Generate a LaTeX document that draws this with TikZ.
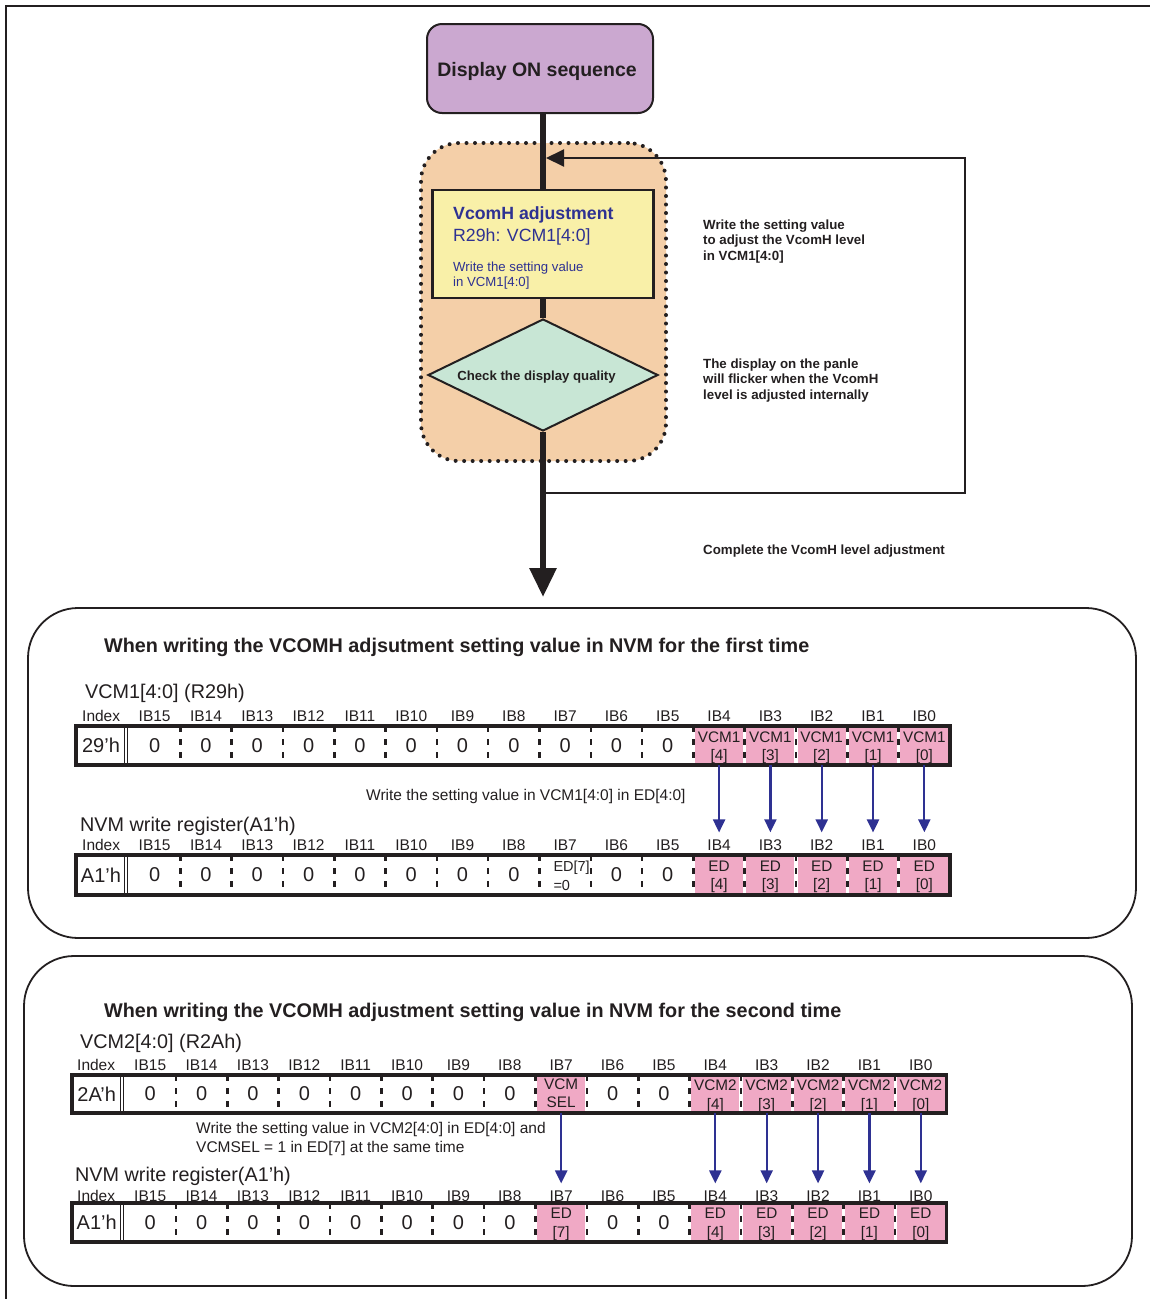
\documentclass[tikz,border=0pt]{standalone}
\usepackage{fontspec}
\setmainfont{Liberation Sans}
\usetikzlibrary{arrows.meta,shapes.geometric}
\definecolor{ink}{HTML}{231F20}
\definecolor{purp}{HTML}{CBA8D0}
\definecolor{peach}{HTML}{F4CFA8}
\definecolor{yel}{HTML}{F9F0A8}
\definecolor{mint}{HTML}{C8E6D5}
\definecolor{pinkc}{HTML}{F0A9C5}
\definecolor{navy}{HTML}{2E3192}
\newcommand\fsz[2]{\fontsize{#1}{#2}\selectfont}
% #1 name, #2 box left, #3 cells left, #4 right, #5 top, #6 bottom, #7 index text, #8 pink cells
\newcommand\regrow[8]{%
  \pgfmathsetmacro\rgcw{(#4-#3)/16}%
  \pgfmathsetmacro\rgch{#6-#5}%
  \foreach \k in {#8} {
    \fill[pinkc] ({#3+\k*\rgcw+1.6},{#5}) rectangle ({#3+(\k+1)*\rgcw-1.6},{#6});
  }
  \foreach \k in {0,...,15} {
    \node[cellbox, minimum width=\rgcw pt, minimum height=\rgch pt] (#1\k) at ({#3+(\k+0.5)*\rgcw},{(#5+#6)/2}) {};
  }
  \foreach \k in {1,...,15} {
    \draw[sep] ({#3+\k*\rgcw},{#5}) -- ({#3+\k*\rgcw},{#6});
  }
  \draw[draw=ink, line width=1pt] ({#3-1.5},{#5}) -- ({#3-1.5},{#6}) ({#3-4.5},{#5}) -- ({#3-4.5},{#6});
  \node[val] (#1i) at ({(#2+#3-3)/2},{(#5+#6)/2}) {#7};
  \draw[draw=ink, line width=3.5pt] (#2,#5) rectangle (#4,#6);
}
% #1 name, #2 x of Index, #3 cells left, #4 right, #5 y
\newcommand\hdrrow[5]{%
  \pgfmathsetmacro\rgcw{(#4-#3)/16}%
  \node[hdr, anchor=west] (#1i) at (#2,#5) {Index};
  \foreach \k [evaluate=\k as \bb using int(15-\k)] in {0,...,15} {
    \node[hdr] (#1\k) at ({#3+(\k+0.5)*\rgcw},#5) {IB\bb};
  }
}
\begin{document}
\begin{tikzpicture}[x=1pt,y=-1pt,
  hdr/.style={font=\fsz{15.5}{17}, text=ink, inner sep=0pt},
  val/.style={font=\fsz{20}{22}, text=ink, inner sep=0pt},
  pk/.style={font=\fsz{15.3}{18.5}, text=ink, align=center, inner sep=0pt, yshift=-2pt},
  lbl/.style={font=\fsz{19.8}{22}, text=ink, inner sep=0pt, anchor=west, yshift=-2pt},
  ttl/.style={font=\bfseries\fsz{19.8}{22}, text=ink, inner sep=0pt, anchor=west, yshift=-2pt},
  note/.style={font=\fsz{15.5}{19}, text=ink, inner sep=0pt, anchor=west, yshift=-2pt},
  side/.style={font=\bfseries\fsz{13.3}{15.5}, text=ink, inner sep=0pt, anchor=west, align=left, yshift=-2pt},
  cellbox/.style={inner sep=0pt, draw=none},
  sep/.style={draw=ink, line width=2.6pt, dash pattern=on 6pt off 7pt},
  bluearrow/.style={draw=navy, line width=2.2pt, -{Triangle[width=12pt,length=13pt]}, shorten >=7pt},
  panel/.style={draw=ink, line width=1.8pt, rounded corners=50pt},
  mainline/.style={draw=ink, line width=6pt},
]
\useasboundingbox (0,0) rectangle (1150,1299);
% outer frame
\draw[draw=ink, line width=1.8pt] (6,1299) -- (6,6) -- (1150,6);

% dotted group
\node[draw=ink, dash pattern=on 0pt off 8.5pt, line cap=round, line width=4pt, fill=peach,
      rounded corners=38pt, minimum width=245pt, minimum height=318pt, inner sep=0pt] (grp) at (543.5,302) {};

% feedback loop
\coordinate (lb) at (543,493);
\coordinate (lr) at (965,493);
\coordinate (tr) at (965,158);
\coordinate (tl) at (546,158);
\draw[draw=ink, line width=2pt, -{Triangle[width=17pt,length=18pt]}] (lb) -- (lr) -- (tr) -- (tl);

% nodes
\node[draw=ink, line width=2pt, fill=purp, rounded corners=15pt, minimum width=226pt, minimum height=89pt,
      inner sep=0pt] (disp) at (540,68.5) {};
\node[font=\bfseries\fsz{19.5}{22}, text=ink, inner sep=0pt] (dispt) at (537,71.5) {Display ON sequence};
\node[draw=ink, line width=2.5pt, fill=yel, minimum width=221pt, minimum height=108pt, inner sep=0pt] (vbox) at (543,244) {};
\node[font=\bfseries\fsz{17.7}{20}, text=navy, inner sep=0pt, anchor=west] (vt1) at (453,215) {VcomH adjustment};
\node[font=\fsz{17.7}{20}, text=navy, inner sep=0pt, anchor=west] (vt2) at (453,236.5) {R29h: VCM1[4:0]};
\node[font=\fsz{13.2}{15}, text=navy, inner sep=0pt, anchor=west, align=left] (vt3) at (453,275.5) {Write the setting value\\in VCM1[4:0]};
\node[diamond, draw=ink, line width=2pt, fill=mint, minimum width=230pt, minimum height=112pt, inner sep=0pt,
      aspect=2] (diam) at (543,375) {};
\node[font=\bfseries\fsz{13.2}{15}, text=ink, inner sep=0pt] (diamt) at (536.5,377) {Check the display quality};

% connectors
\draw[mainline] (disp.south -| vbox.north) -- (vbox.north);
\draw[mainline] (vbox.south) -- (diam.north);
\coordinate (endp) at (543,597);
\draw[mainline, -{Triangle[width=26pt,length=29pt]}] (diam.south) -- (endp);

% side notes
\node[side] (n1) at (703,239.5) {Write the setting value\\to adjust the VcomH level\\in VCM1[4:0]};
\node[side] (n2) at (703,378.5) {The display on the panle\\will flicker when the VcomH\\level is adjusted internally};
\node[side] (n3) at (703,549) {Complete the VcomH level adjustment};

% ===== panel 1 =====
\draw[panel] (28,608) rectangle (1136,938);
\node[ttl] (t1) at (104,645) {When writing the VCOMH adjsutment setting value in NVM for the first time};
\node[lbl] (l1) at (85,691) {VCM1[4:0] (R29h)};
\hdrrow{HA}{82}{129}{950}{716}
\regrow{A}{76}{129}{950}{726}{765}{29'h}{11,...,15}
\foreach \k in {0,...,10} {\node[val] at (A\k) {0};}
\foreach \k [evaluate=\k as \bb using int(15-\k)] in {11,...,15} {\node[pk] at (A\k) {VCM1\\{}[\bb]};}

\node[note] (w1) at (366,794) {Write the setting value in VCM1[4:0] in ED[4:0]};
\node[lbl] (l2) at (80,824) {NVM write register(A1'h)};
\hdrrow{HB}{82}{129}{950}{845}
\regrow{B}{76}{129}{950}{855}{895}{A1'h}{11,...,15}
\foreach \k in {0,...,7,9,10} {\node[val] at (B\k) {0};}
\node[font=\fsz{14.5}{18.5}, text=ink, align=left, inner sep=0pt, anchor=west, yshift=-1pt] (b8t) at ([xshift=14pt]B8.west) {ED[7]\\=0};
\foreach \k [evaluate=\k as \bb using int(15-\k)] in {11,...,15} {\node[pk] at (B\k) {ED\\{}[\bb]};}
\foreach \k in {11,...,15} {\draw[bluearrow] (A\k.south) -- (HB\k.north);}

% ===== panel 2 =====
\draw[panel] (24,956) rectangle (1132,1286);
\node[ttl] (t2) at (104,1010) {When writing the VCOMH adjustment setting value in NVM for the second time};
\node[lbl] (l3) at (80,1041) {VCM2[4:0] (R2Ah)};
\hdrrow{HC}{77}{124.5}{946.5}{1065}
\regrow{C}{72}{124.5}{946.5}{1075}{1113}{2A'h}{8,11,12,13,14,15}
\foreach \k in {0,...,7,9,10} {\node[val] at (C\k) {0};}
\node[pk, yshift=3pt] at (C8) {VCM\\SEL};
\foreach \k [evaluate=\k as \bb using int(15-\k)] in {11,...,15} {\node[pk] at (C\k) {VCM2\\{}[\bb]};}

\node[note] (w2) at (196,1127) {Write the setting value in VCM2[4:0] in ED[4:0] and};
\node[note] (w3) at (196,1146) {VCMSEL = 1 in ED[7] at the same time};
\node[lbl] (l4) at (75,1174) {NVM write register(A1'h)};
\hdrrow{HD}{77}{124.5}{946.5}{1196}
\regrow{D}{72}{124.5}{946.5}{1203}{1242}{A1'h}{8,11,12,13,14,15}
\foreach \k in {0,...,7,9,10} {\node[val] at (D\k) {0};}
\node[pk] at (D8) {ED\\{}[7]};
\foreach \k [evaluate=\k as \bb using int(15-\k)] in {11,...,15} {\node[pk] at (D\k) {ED\\{}[\bb]};}
\foreach \k in {8,11,12,13,14,15} {\draw[bluearrow] (C\k.south) -- (HD\k.north);}
\end{tikzpicture}
\end{document}
